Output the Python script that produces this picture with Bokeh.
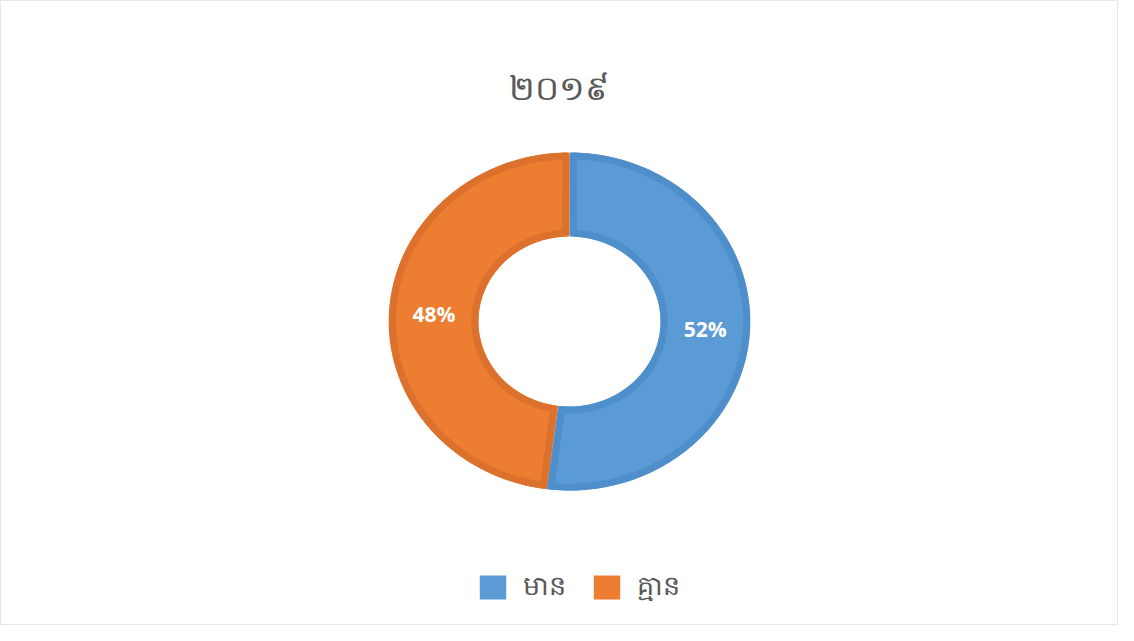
import math
from bokeh.plotting import figure
from bokeh.models import Range1d, Legend, LegendItem
from bokeh.core.properties import value
from bokeh.embed import file_html
from bokeh.resources import INLINE

title_text = "២០១៩"
categories = ["មាន", "គ្មាន"]
shares = [52, 48]
fill_colors = ["#5B9BD5", "#ED7D31"]
edge_colors = ["#4E8ECA", "#DB712C"]

W, H = 1118, 625
p = figure(width=W, height=H, output_backend="svg", toolbar_location=None,
           x_range=Range1d(0, W), y_range=Range1d(H, 0),
           min_border=0, outline_line_color="#E6E6E6", outline_line_width=1)
p.axis.visible = False
p.grid.visible = False
p.background_fill_color = "white"
p.border_fill_color = "white"

cx, cy = 569, 321
ro_y, ri_y = 169, 85
sx = 1.07
bw = 7.0
n = 120

def ring_poly(a0, a1, ro, ri, inset=0.0):
    xs, ys = [], []
    ro2 = ro - inset
    ri2 = ri + inset
    da_o = inset / ro if ro else 0
    da_i = inset / ri if ri else 0
    b0, b1 = a0 + da_o, a1 - da_o
    for k in range(n + 1):
        t = b0 + (b1 - b0) * k / n
        xs.append(cx + sx * ro2 * math.sin(t))
        ys.append(cy - ro2 * math.cos(t))
    c0, c1 = a0 + da_i, a1 - da_i
    for k in range(n + 1):
        t = c1 - (c1 - c0) * k / n
        xs.append(cx + sx * ri2 * math.sin(t))
        ys.append(cy - ri2 * math.cos(t))
    return xs, ys

total = sum(shares)
start = 0.0
lab_x, lab_y, lab_t = [], [], []
for v, fc, ec in zip(shares, fill_colors, edge_colors):
    a0 = start
    a1 = start + 2 * math.pi * v / total
    xs, ys = ring_poly(a0, a1, ro_y, ri_y)
    p.patch(xs, ys, fill_color=fc, line_color=None)
    xs2, ys2 = ring_poly(a0, a1, ro_y, ri_y, inset=bw / 2)
    p.patch(xs2, ys2, fill_color=None, line_color=ec, line_width=bw, line_join="round")
    mid = (a0 + a1) / 2
    rm = (ro_y + ri_y) / 2
    lab_x.append(cx + sx * rm * math.sin(mid))
    lab_y.append(cy - rm * math.cos(mid))
    lab_t.append(f"{round(100 * v / total)}%")
    start = a1

p.text(x=lab_x, y=lab_y, text=lab_t, text_color="white", text_font=value("Open Sans"),
       text_font_style="bold", text_font_size="21px", text_align="center",
       text_baseline="middle")

p.text(x=[558], y=[86], text=[title_text], text_color="#595959",
       text_font=value("Noto Sans"), text_font_size="34px", text_align="center",
       text_baseline="middle")

items = []
for cat, fc in zip(categories, fill_colors):
    r = p.quad(left=[-600], right=[-590], bottom=[-600], top=[-590],
               fill_color=fc, line_color=None)
    items.append(LegendItem(label=cat, renderers=[r]))

legend = Legend(items=items, orientation="horizontal", location=(476, 17),
                glyph_width=33, glyph_height=30, label_standoff=14, spacing=24,
                padding=0, margin=0, border_line_color=None, background_fill_alpha=0,
                label_text_font="Noto Sans", label_text_font_size="27px",
                label_text_color="#595959")
p.add_layout(legend, "center")

open("out.html", "w").write(file_html(p, INLINE))
